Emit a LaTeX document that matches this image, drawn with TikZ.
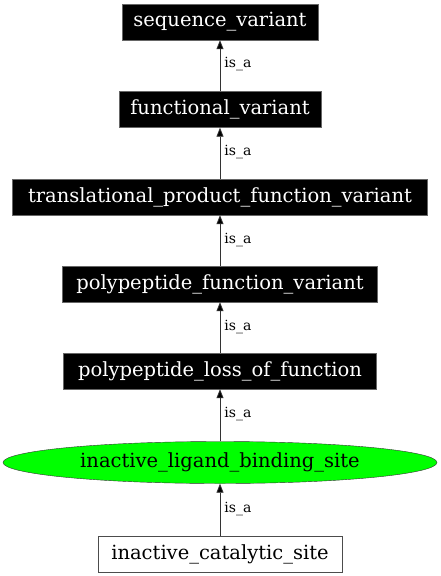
\documentclass[tikz,border=0pt]{standalone}
\usepackage{fontspec}
\setmainfont{DejaVu Serif}
\usetikzlibrary{shapes.geometric,arrows.meta}
\begin{document}
\begin{tikzpicture}[x=1pt,y=-1pt,
  blackbox/.style={rectangle,fill=black,draw=black!60,text=white,minimum height=36pt,inner sep=0pt,font=\fontsize{19.5}{22}\selectfont},
  whitebox/.style={rectangle,fill=white,draw=black!70,text=black,minimum height=36pt,inner sep=0pt,font=\fontsize{19.5}{22}\selectfont},
  greenell/.style={ellipse,fill=green,draw=black!80,text=black,minimum width=434pt,minimum height=42pt,inner sep=0pt,font=\fontsize{19.5}{22}\selectfont},
  edge/.style={draw=black!80,line width=0.8pt,-{Triangle[length=9pt,width=7pt,fill=black]}},
  elabel/.style={font=\fontsize{14}{16}\selectfont,inner sep=2pt,anchor=west,text=black}]
\useasboundingbox (0,0) rectangle (440,576);
\node[blackbox,minimum width=196pt] (sv) at (220,22) {sequence\_variant};
\node[blackbox,minimum width=202pt] (fv) at (220,109.5) {functional\_variant};
\node[blackbox,minimum width=415pt] (tpfv) at (220,197) {translational\_product\_function\_variant};
\node[blackbox,minimum width=315pt] (pfv) at (220,284) {polypeptide\_function\_variant};
\node[blackbox,minimum width=313pt] (plof) at (220,371) {polypeptide\_loss\_of\_function};
\node[greenell] (ilbs) at (220,462.5) {inactive\_ligand\_binding\_site};
\node[whitebox,minimum width=244pt] (ics) at (220,554) {inactive\_catalytic\_site};
\draw[edge] (fv.north) -- (sv.south) node[elabel] at (222,64) {is\_a};
\draw[edge] (tpfv.north) -- (fv.south) node[elabel] at (222,152) {is\_a};
\draw[edge] (pfv.north) -- (tpfv.south) node[elabel] at (222,240) {is\_a};
\draw[edge] (plof.north) -- (pfv.south) node[elabel] at (222,327) {is\_a};
\draw[edge] (ilbs.north) -- (plof.south) node[elabel] at (222,414) {is\_a};
\draw[edge] (ics.north) -- (ilbs.south) node[elabel] at (222,509) {is\_a};
\end{tikzpicture}
\end{document}
